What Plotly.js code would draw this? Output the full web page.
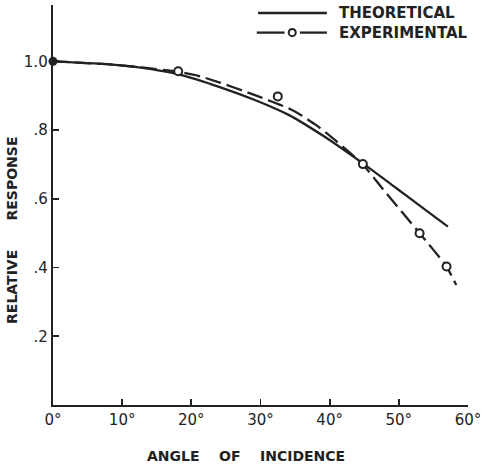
<!DOCTYPE html>
<html>
<head>
<meta charset="utf-8">
<script src="https://cdn.plot.ly/plotly-3.0.1.min.js"></script>
<style>html,body{margin:0;padding:0;background:#fff;}#chart{width:482px;height:467px;}</style>
</head>
<body>
<div id="chart"></div>
<script>
// Theoretical curve
const theoAngle = [0, 9, 14, 19, 24, 29, 34, 39, 44.8, 49.7, 53.5, 57.1];
const theoResp  = [1.0, 0.99, 0.978, 0.958, 0.926, 0.889, 0.845, 0.784, 0.703, 0.630, 0.573, 0.519];
// Experimental dashed curve
const expCurveAngle = [0, 9, 18, 21, 24, 28.5, 31.5, 34.2, 36, 38, 40, 42, 44.8, 47.7, 53, 56.9, 58.3];
const expCurveResp  = [1.0, 0.99, 0.970, 0.958, 0.939, 0.907, 0.884, 0.862, 0.842, 0.815, 0.784, 0.75, 0.70, 0.628, 0.50, 0.403, 0.349];
// Experimental measured points
const expAngle = [18.1, 32.5, 44.8, 53.0, 56.9];
const expResp  = [0.971, 0.898, 0.701, 0.500, 0.403];
// Common origin point
const originAngle = [0];
const originResp = [1.0];
// Tick labels
const xTicks = [0, 10, 20, 30, 40, 50, 60];
const xTickText = ['0°', '10°', '20°', '30°', '40°', '50°', '60°'];
const yTicks = [0.2, 0.4, 0.6, 0.8, 1.0];
const yTickText = ['.2', '.4', '.6', '.8', '1.0'];

const ink = '#222222';
const fam = 'DejaVu Sans, Liberation Sans, sans-serif';
const f = (s, w) => ({family: fam, size: s, color: ink, weight: w || 'normal'});

const traces = [
  {x: theoAngle, y: theoResp, mode: 'lines', line: {color: ink, width: 2.3, shape: 'spline', smoothing: 0.6}, name: 'THEORETICAL', hoverinfo: 'skip'},
  {x: expCurveAngle, y: expCurveResp, mode: 'lines', line: {color: ink, width: 2.3, dash: '16px,6px', shape: 'spline', smoothing: 0.5}, name: 'EXPERIMENTAL', hoverinfo: 'skip'},
  {x: expAngle, y: expResp, mode: 'markers', marker: {symbol: 'circle', size: 8, color: '#fff', line: {color: ink, width: 2}}, name: 'EXPERIMENTAL points', cliponaxis: false},
  {x: originAngle, y: originResp, mode: 'markers', marker: {symbol: 'circle', size: 9, color: ink}, name: 'origin', cliponaxis: false}
];

const layout = {
  width: 482, height: 467,
  margin: {l: 53, r: 14, t: 5, b: 62},
  paper_bgcolor: '#fff', plot_bgcolor: '#fff',
  showlegend: false,
  font: f(14),
  xaxis: {
    range: [0, 60], tickvals: xTicks, ticktext: xTickText,
    ticks: 'inside', ticklen: 6, tickwidth: 1.8, tickcolor: ink,
    showline: true, linecolor: ink, linewidth: 2.3, showgrid: false, zeroline: false,
    tickfont: f(15),
    automargin: false
  },
  yaxis: {
    range: [0, 1.164], tickvals: yTicks, ticktext: yTickText,
    ticks: 'inside', ticklen: 6, tickwidth: 1.8, tickcolor: ink,
    showline: true, linecolor: ink, linewidth: 2.3, showgrid: false, zeroline: false,
    tickfont: f(15),
    automargin: false
  },
  shapes: [
    {type: 'line', xref: 'paper', yref: 'paper', x0: 0.494, x1: 0.660, y0: 0.98, y1: 0.98, line: {color: ink, width: 2.3}},
    {type: 'line', xref: 'paper', yref: 'paper', x0: 0.491, x1: 0.558, y0: 0.931, y1: 0.931, line: {color: ink, width: 2.3}},
    {type: 'line', xref: 'paper', yref: 'paper', x0: 0.595, x1: 0.660, y0: 0.931, y1: 0.931, line: {color: ink, width: 2.3}},
    {type: 'circle', xref: 'paper', yref: 'paper', x0: 0.568, x1: 0.585, y0: 0.922, y1: 0.940, line: {color: ink, width: 2}, fillcolor: '#fff'}
  ],
  annotations: [
    {xref: 'paper', yref: 'paper', x: 0.684, y: 0.98, xanchor: 'left', yanchor: 'middle', text: 'THEORETICAL', showarrow: false, font: f(15, 'bold')},
    {xref: 'paper', yref: 'paper', x: 0.684, y: 0.931, xanchor: 'left', yanchor: 'middle', text: 'EXPERIMENTAL', showarrow: false, font: f(15, 'bold')},
    {xref: 'paper', yref: 'paper', x: -0.099, y: 0.4375, xanchor: 'center', yanchor: 'middle', textangle: -90, text: 'RELATIVE      RESPONSE', showarrow: false, font: f(14, 'bold')},
    {xref: 'paper', yref: 'paper', x: (246 - 53) / 415, y: -0.1275, xanchor: 'center', yanchor: 'middle', text: 'ANGLE    OF    INCIDENCE', showarrow: false, font: f(14, 'bold')}
  ]
};

Plotly.newPlot('chart', traces, layout, {staticPlot: true, displayModeBar: false});
</script>
</body>
</html>
